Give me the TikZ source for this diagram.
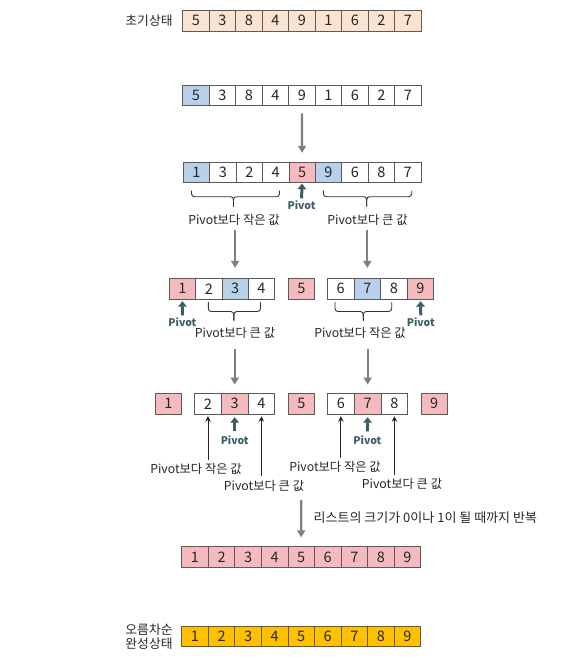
\documentclass[tikz,border=0pt]{standalone}
\usepackage{fontspec}
\setmainfont{Noto Sans CJK KR}
\usetikzlibrary{arrows.meta,calc}
\definecolor{peach}{HTML}{FBE3D2}
\definecolor{lblue}{HTML}{B9D0EA}
\definecolor{lpink}{HTML}{F5BABD}
\definecolor{gold}{HTML}{FFC000}
\definecolor{cellline}{HTML}{5A5A5A}
\definecolor{flowgray}{HTML}{808080}
\definecolor{pivotc}{HTML}{3B5D64}
\definecolor{txt}{HTML}{262626}
% brace: x1, x2, tip x, top y, horizontal y, tip y
\newcommand\pbrace[6]{%
  \draw[brline] (#1,#4) |- (#3,#5) -- (#3,#6);
  \draw[brline] (#2,#4) |- (#3,#5) -- (#3,#6);}
\begin{document}
\begin{tikzpicture}[x=1pt,y=-1pt,
  cell/.style={draw=cellline,line width=0.8pt,minimum height=20.5pt,minimum width=#1,
    inner sep=0pt,font=\fontsize{14.5}{14.5}\selectfont,text=txt},
  cell/.default=26.5pt,
  lbl/.style={font=\fontsize{12.3}{14}\selectfont,inner sep=1pt,text=txt},
  ttl/.style={font=\fontsize{12.8}{14}\selectfont,inner sep=1pt,text=txt,align=center},
  pv/.style={font=\fontsize{10.5}{12}\selectfont\bfseries,text=pivotc,inner sep=1pt},
  flow/.style={draw=flowgray,line width=2.2pt,-{Triangle[width=8pt,length=7pt]}},
  pivotarrow/.style={draw=pivotc,line width=3pt,-{Triangle[width=8.5pt,length=5.5pt]}},
  thinarrow/.style={draw=txt,line width=1pt,-{Stealth[width=5.5pt,length=5.5pt]}},
  brline/.style={draw=black!80,line width=0.9pt,rounded corners=3pt}]
\useasboundingbox (0,0) rectangle (579,663);

% row 1
\node[ttl] (t1) at (149,20.5) {초기상태};
\foreach \v [count=\i] in {5,3,8,4,9,1,6,2,7}
  \node[cell,fill=peach] (r1c\i) at ({195.95+26.5*(\i-1)},20.7) {\v};

% row 2
\foreach \v/\f [count=\i] in {5/lblue,3/white,8/white,4/white,9/white,1/white,6/white,2/white,7/white}
  \node[cell,fill=\f] (r2c\i) at ({195.95+26.5*(\i-1)},95.3) {\v};

% row 3
\foreach \v/\f [count=\i] in {1/lblue,3/white,2/white,4/white,5/lpink,9/lblue,6/white,8/white,7/white}
  \node[cell=26.4pt,fill=\f] (r3c\i) at ({196.5+26.4*(\i-1)},172.5) {\v};

% row 4
\foreach \v/\f [count=\i] in {1/lpink,2/white,3/lblue,4/white}
  \node[cell=26.3pt,fill=\f,minimum height=21pt] (r4c\i) at ({182.5+26.3*(\i-1)},288.8) {\v};
\node[cell=26pt,fill=lpink,minimum height=21pt] (r4c5) at (301.3,288.8) {5};
\foreach \v/\f [count=\i from 6] in {6/white,7/lblue,8/white,9/lpink}
  \node[cell=26.6pt,fill=\f,minimum height=21pt] (r4c\i) at ({340.7+26.6*(\i-6)},288.8) {\v};

% row 5
\node[cell=26.7pt,fill=lpink,minimum height=21pt] (r5c1) at (168.35,403.8) {1};
\foreach \v/\f [count=\i from 2] in {2/white,3/lpink,4/white}
  \node[cell=26.7pt,fill=\f,minimum height=21pt] (r5c\i) at ({208+26.7*(\i-2)},403.8) {\v};
\node[cell=26pt,fill=lpink,minimum height=21pt] (r5c5) at (301.3,403.8) {5};
\foreach \v/\f [count=\i from 6] in {6/white,7/lpink,8/white}
  \node[cell=26.8pt,fill=\f,minimum height=21pt] (r5c\i) at ({340.85+26.8*(\i-6)},403.8) {\v};
\node[cell=26.3pt,fill=lpink,minimum height=21pt] (r5c9) at (434.15,403.8) {9};

% row 6
\foreach \v [count=\i] in {1,...,9}
  \node[cell=26.55pt,fill=lpink] (r6c\i) at ({194.98+26.55*(\i-1)},557) {\v};

% row 7
\node[ttl] (t7) at (149,636.5) {오름차순\\완성상태};
\foreach \v [count=\i] in {1,...,9}
  \node[cell=26.55pt,fill=gold] (r7c\i) at ({194.98+26.55*(\i-1)},636.3) {\v};

% flow row2 -> row3
\draw[flow,shorten <=7.5pt,shorten >=9pt] (r2c5.south) -- (r3c5.north);

% row 3 braces, pivot, labels
\pbrace{191.5}{279.5}{233.5}{190.7}{196.7}{206.5}
\pbrace{323.3}{411.7}{366.7}{190.7}{196.7}{206.5}
\node[pv] (p3) at (301.5,205) {Pivot};
\draw[pivotarrow,shorten <=1pt,shorten >=0.5pt] (p3.north) -- (r3c5.south);
\node[lbl] (l3a) at (234,220) {Pivot보다 작은 값};
\node[lbl] (l3b) at (367.5,220) {Pivot보다 큰 값};

% flow row3 -> row4
\draw[flow,shorten <=3pt,shorten >=10pt] (r4c3.north |- l3a.south) -- (r4c3.north);
\draw[flow,shorten <=3pt,shorten >=10pt] (r4c7.north |- l3b.south) -- (r4c7.north);

% row 4 pivots, braces, labels
\node[pv] (p4a) at (182.4,322) {Pivot};
\node[pv] (p4b) at (420.8,322) {Pivot};
\draw[pivotarrow,shorten <=1pt,shorten >=1.5pt] (p4a.north) -- (r4c1.south);
\draw[pivotarrow,shorten <=1pt,shorten >=1.5pt] (p4b.north) -- (r4c9.south);
\pbrace{208.3}{260.5}{233.8}{302}{311.5}{320.5}
\pbrace{335}{391.7}{363.3}{302}{311.5}{320.5}
\node[lbl] (l4a) at (235,332.7) {Pivot보다 큰 값};
\node[lbl] (l4b) at (360,332.7) {Pivot보다 작은 값};

% flow row4 -> row5
\draw[flow,shorten <=10pt,shorten >=8.3pt] (r5c3.north |- l4a.south) -- (r5c3.north);
\draw[flow,shorten <=10pt,shorten >=8.3pt] (r5c7.north |- l4b.south) -- (r5c7.north);

% row 5 pivots and pointers
\node[pv] (p5a) at (234.7,440) {Pivot};
\node[pv] (p5b) at (367.4,440) {Pivot};
\draw[pivotarrow,shorten <=3pt,shorten >=2.5pt] (p5a.north) -- (r5c3.south);
\draw[pivotarrow,shorten <=3pt,shorten >=2.5pt] (p5b.north) -- (r5c7.south);
\node[lbl] (l5a) at (196,469) {Pivot보다 작은 값};
\node[lbl] (l5b) at (264,485.5) {Pivot보다 큰 값};
\node[lbl] (l5c) at (335,467) {Pivot보다 작은 값};
\node[lbl] (l5d) at (402,484) {Pivot보다 큰 값};
\draw[thinarrow,shorten <=2.5pt,shorten >=1.5pt] (r5c2.south |- l5a.north) -- (r5c2.south);
\draw[thinarrow,shorten <=2.5pt,shorten >=1.5pt] (r5c4.south |- l5b.north) -- (r5c4.south);
\draw[thinarrow,shorten <=2.5pt,shorten >=1.5pt] (r5c6.south |- l5c.north) -- (r5c6.south);
\draw[thinarrow,shorten <=2.5pt,shorten >=1.5pt] (r5c8.south |- l5d.north) -- (r5c8.south);

% flow row5 -> row6
\coordinate (c56) at (301.3,500);
\draw[flow,shorten >=9pt] (c56) -- (r6c5.north);
\node[lbl,anchor=west,font=\fontsize{13}{14}\selectfont] (l56) at (312.5,517.7) {리스트의 크기가 0이나 1이 될 때까지 반복};
\end{tikzpicture}
\end{document}
